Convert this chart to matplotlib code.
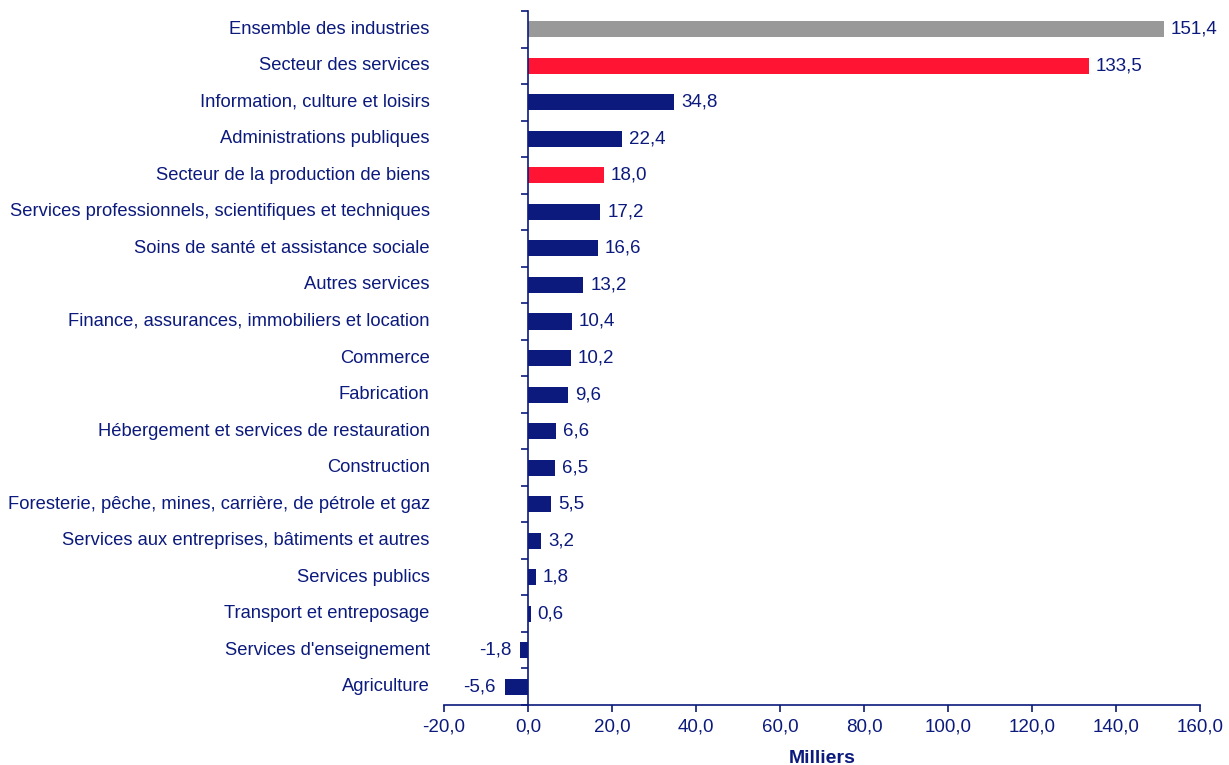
import matplotlib
matplotlib.use("Agg")
import matplotlib.pyplot as plt
import matplotlib.transforms as mtransforms
import numpy as np

categories = [
    "Ensemble des industries",
    "Secteur des services",
    "Information, culture et loisirs",
    "Administrations publiques",
    "Secteur de la production de biens",
    "Services professionnels, scientifiques et techniques",
    "Soins de santé et assistance sociale",
    "Autres services",
    "Finance, assurances, immobiliers et location",
    "Commerce",
    "Fabrication",
    "Hébergement et services de restauration",
    "Construction",
    "Foresterie, pêche, mines, carrière, de pétrole et gaz",
    "Services aux entreprises, bâtiments et autres",
    "Services publics",
    "Transport et entreposage",
    "Services d'enseignement",
    "Agriculture",
]
values = [151.4, 133.5, 34.8, 22.4, 18.0, 17.2, 16.6, 13.2, 10.4, 10.2,
          9.6, 6.6, 6.5, 5.5, 3.2, 1.8, 0.6, -1.8, -5.6]
kinds = ["total", "sector", "ind", "ind", "sector"] + ["ind"] * 14
xticks = [-20, 0, 20, 40, 60, 80, 100, 120, 140, 160]

NAVY = "#0b1a7c"
colors = {"total": "#999999", "sector": "#ff1433", "ind": "#0b1a7c"}

plt.rcParams["font.family"] = ["Liberation Sans", "DejaVu Sans"]

fig = plt.figure(figsize=(12.29, 7.65), dpi=100)
ax = fig.add_axes([0.3613, 0.0784, 0.9764 - 0.3613, 0.9856 - 0.0784])

n = len(categories)
y = np.arange(n)
ax.barh(y, values, height=0.44, color=[colors[k] for k in kinds], zorder=2)

ax.set_xlim(-20, 160)
ax.set_ylim(n - 0.5, -0.5)
ax.set_xticks(xticks)
ax.set_xticklabels([f"{t:.1f}".replace(".", ",") for t in xticks],
                   fontsize=13.5, color=NAVY)
ax.set_yticks(np.arange(n + 1) - 0.5)
ax.set_yticklabels([])

for s in ["top", "right"]:
    ax.spines[s].set_visible(False)
ax.spines["left"].set_position(("data", 0))
ax.spines["left"].set_color(NAVY)
ax.spines["bottom"].set_color(NAVY)
ax.spines["left"].set_linewidth(1.2)
ax.spines["bottom"].set_linewidth(1.2)
ax.tick_params(axis="y", direction="out", length=5, color=NAVY, width=1.2)
ax.tick_params(axis="x", direction="out", length=5, color=NAVY, width=1.2, pad=5)

trans = mtransforms.blended_transform_factory(ax.transAxes, ax.transData)
for i, lab in enumerate(categories):
    ax.text(-0.019, i, lab, transform=trans, ha="right", va="center",
            fontsize=13.2, color=NAVY)

# value labels: 7 px right of the bar end (left of it for negatives)
for i, v in enumerate(values):
    txt = f"{v:.1f}".replace(".", ",")
    off = mtransforms.offset_copy(ax.transData, fig=fig, x=7 if v >= 0 else -9, units="dots")
    ax.text(v, i, txt, transform=off, ha="left" if v >= 0 else "right",
            va="center", fontsize=13.5, color=NAVY)

ax.set_xlabel("Milliers", fontsize=14, fontweight="bold", color=NAVY, labelpad=10)

fig.savefig("out.png", dpi=100)
